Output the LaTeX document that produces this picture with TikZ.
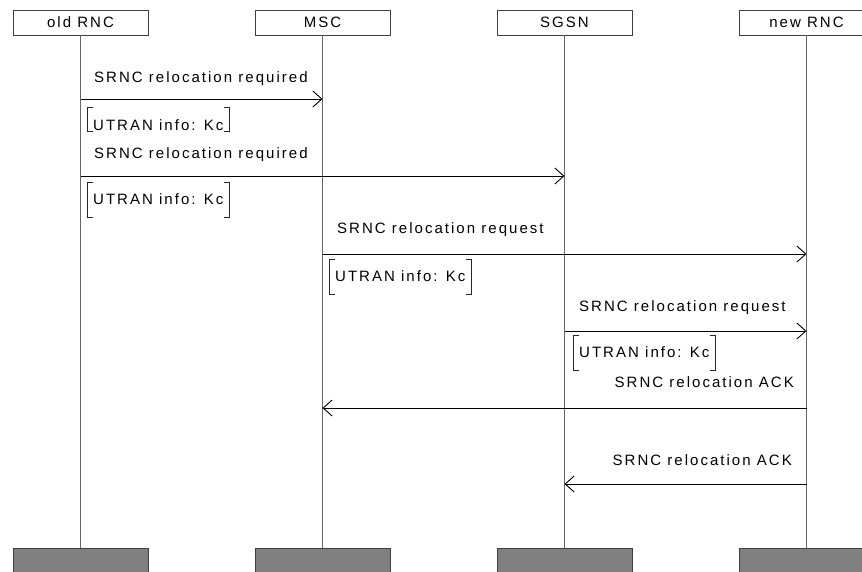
\documentclass[tikz,border=0pt]{standalone}
\usepackage{fontspec}
\setmainfont{Liberation Sans}[LetterSpace=13.5]
\usetikzlibrary{positioning, arrows.meta}

\tikzstyle{entity} = [rectangle, minimum width=135pt, minimum height=25pt, inner sep=0pt, outer sep=0pt, text centered, draw=black!75, line width=0.8pt, font=\fontsize{15}{17}\selectfont]
\tikzstyle{endbox} = [rectangle, minimum width=135pt, minimum height=25pt, inner sep=0pt, outer sep=0pt, draw=black!75, fill=black!50, line width=0.8pt]
\tikzstyle{lifeline} = [draw=black!60, line width=1pt]
\tikzstyle{msg} = [line width=0.9pt, -{Straight Barb[length=9pt,width=16pt]}]
\tikzstyle{msgtext} = [inner sep=0pt, font=\fontsize{15}{17}\selectfont]
\tikzstyle{info} = [inner xsep=6pt, inner ysep=10pt, text height=11pt, text depth=3pt, font=\fontsize{15}{17}\selectfont]
\tikzstyle{bracketline} = [line width=0.8pt, draw=black!85]

\newcommand{\infobrackets}[1]{%
	\draw [bracketline] ([xshift=6pt]#1.north west) -| (#1.south west) -- ++(6pt,0);
	\draw [bracketline] ([xshift=-6pt]#1.north east) -| (#1.south east) -- ++(-6pt,0);}

\begin{document}
\begin{tikzpicture}[x=1pt, y=-1pt]

	\useasboundingbox (0,0) rectangle (862,571);


% Entities

	\node (oldrnc) [entity, anchor=north] at (80.5,10) {old RNC};
	\node (msc) [entity, right=107pt of oldrnc] {MSC};
	\node (sgsn) [entity, right=107pt of msc] {SGSN};
	\node (newrnc) [entity, right=107pt of sgsn] {new RNC};


% End boxes

	\node (oldrncend) [endbox, below=513pt of oldrnc] {};
	\node (mscend) [endbox, below=513pt of msc] {};
	\node (sgsnend) [endbox, below=513pt of sgsn] {};
	\node (newrncend) [endbox, below=513pt of newrnc] {};


% Lifelines

	\draw [lifeline] (oldrnc) -- (oldrncend);
	\draw [lifeline] (msc) -- (mscend);
	\draw [lifeline] (sgsn) -- (sgsnend);
	\draw [lifeline] (newrnc) -- (newrncend);


% Message levels

	\coordinate (m1) at (0,99);
	\coordinate (m2) at (0,176);
	\coordinate (m3) at (0,254);
	\coordinate (m4) at (0,331);
	\coordinate (m5) at (0,408);
	\coordinate (m6) at (0,484);


% Old RNC - MSC

	\node (t1) [msgtext, anchor=base west] at (94,82) {SRNC relocation required};
	\draw [msg] (oldrnc |- m1) -- (msc |- m1);

	\node (i1) [info, anchor=base west, text height=21pt, text depth=0pt, inner ysep=1pt] at (87,130) {UTRAN info: Kc};
	\infobrackets{i1}


% Old RNC - SGSN

	\node (t2) [msgtext, anchor=base west] at (94,158) {SRNC relocation required};
	\draw [msg] (oldrnc |- m2) -- (sgsn |- m2);

	\node (i2) [info, anchor=base west] at (87,204) {UTRAN info: Kc};
	\infobrackets{i2}


% MSC - new RNC

	\node (t3) [msgtext, anchor=base west] at (337,233) {SRNC relocation request};
	\draw [msg] (msc |- m3) -- (newrnc |- m3);

	\node (i3) [info, anchor=base west] at (329,281) {UTRAN info: Kc};
	\infobrackets{i3}


% SGSN - new RNC

	\node (t4) [msgtext, anchor=base west] at (579,311) {SRNC relocation request};
	\draw [msg] (sgsn |- m4) -- (newrnc |- m4);

	\node (i4) [info, anchor=base west] at (573,357) {UTRAN info: Kc};
	\infobrackets{i4}


% Acknowledgements

	\node (t5) [msgtext, anchor=base east] at (794,387) {SRNC relocation ACK};
	\draw [msg] (newrnc |- m5) -- (msc |- m5);

	\node (t6) [msgtext, anchor=base east] at (792,465) {SRNC relocation ACK};
	\draw [msg] (newrnc |- m6) -- (sgsn |- m6);


\end{tikzpicture}
\end{document}
